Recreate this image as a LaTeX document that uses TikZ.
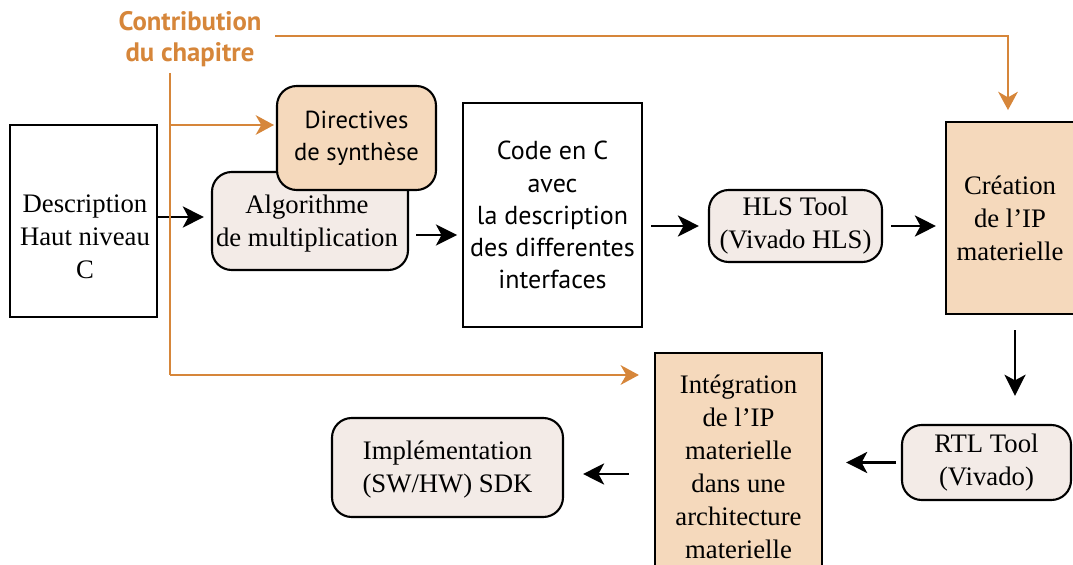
\documentclass[tikz,border=0pt]{standalone}
\usepackage{fontspec}
\setmainfont{Liberation Serif}
\newfontfamily\sansf{PT Sans}
\usetikzlibrary{arrows.meta,positioning}

\definecolor{orangeC}{RGB}{214,134,58}
\definecolor{peach}{RGB}{245,217,188}
\definecolor{lightC}{RGB}{243,235,231}

\tikzset{
  box/.style={draw=black, line width=1.5pt, inner sep=0pt, align=center,
    font=\fontsize{19}{23.5}\selectfont},
  rbox/.style={box, rounded corners=14pt},
  sbox/.style={font=\sansf\fontsize{17.5}{22.8}\selectfont},
  txt/.style={inner sep=0pt, align=center, font=\fontsize{19}{23.5}\selectfont},
  arr/.style={line width=1.9pt, -{Stealth[length=15pt,width=15pt,inset=4pt]}},
  orline/.style={draw=orangeC, line width=1.5pt},
  orarr/.style={orline, -{Stealth[length=13pt,width=14pt,inset=4pt]}}
}

\begin{document}
\begin{tikzpicture}[x=0.025cm, y=-0.025cm]
\useasboundingbox (0,0) rectangle (1073,565);
\clip (0,0) rectangle (1073,565);

% title
\node[txt, text=orangeC, font=\sansf\bfseries\fontsize{19}{22}\selectfont] (contrib) at (190,39) {Contribution\\du chapitre};

% boxes
\node[box, minimum width=147*0.025cm, minimum height=192*0.025cm] (desc) at (83.5,221) {};
\node[txt] (desctxt) at (85,237) {Description\\Haut niveau\\C};
\node[rbox, fill=lightC, minimum width=196*0.025cm, minimum height=98*0.025cm] (algo) at (310,221) {};
\node[txt] (algotxt) at (307,224) {Algorithme\\de multiplication};
\node[rbox, sbox, fill=peach, minimum width=159*0.025cm, minimum height=104*0.025cm] (dirv) at (356.5,138) {Directives\\de synth\`ese};
\node[box, sbox, font=\sansf\fontsize{18.5}{22.8}\selectfont, minimum width=179*0.025cm, minimum height=224*0.025cm] (code) at (552.5,215) {Code en C\\avec\\la description\\des differentes\\interfaces};
\node[rbox, fill=lightC, minimum width=173*0.025cm, minimum height=72*0.025cm] (hls) at (795.5,226) {HLS Tool\\(Vivado HLS)};
\node[box, fill=peach, minimum width=128*0.025cm, minimum height=192*0.025cm] (crea) at (1010,218) {Cr\'eation\\de l'IP\\materielle};
\node[rbox, fill=lightC, minimum width=169*0.025cm, minimum height=75*0.025cm] (rtl) at (986.5,462.5) {RTL Tool\\(Vivado)};
\node[box, fill=peach, minimum width=167*0.025cm, minimum height=227*0.025cm] (integ) at (738.5,466.5) {Int\'egration\\de l'IP\\materielle\\dans une\\architecture\\materielle};
\node[rbox, fill=lightC, minimum width=231*0.025cm, minimum height=99*0.025cm] (impl) at (447.5,467.5) {};
\node[txt] (impltxt) at (447.5,470) {Impl\'ementation\\(SW/HW) SDK};

% flow
\coordinate (d1) at (desc.east |- 0,217);
\draw[arr, shorten >=5pt] (d1) -- (d1 -| algo.west);
\coordinate (a1) at (algo.east |- 0,235);
\draw[arr, shorten <=5pt, shorten >=3.5pt] (a1) -- (a1 -| code.west);
\draw[arr, shorten <=5.7pt, shorten >=6.4pt] (code.east |- hls.west) -- (hls.west);
\draw[arr, shorten <=5.7pt, shorten >=6.4pt] (hls.east) -- (hls.east -| crea.west);
\coordinate (c1) at (1015,314);
\draw[arr, shorten <=11.4pt, shorten >=20pt] (c1) -- (c1 |- rtl.north);
\draw[arr, shorten <=3.5pt, shorten >=16.4pt] (rtl.west) -- (rtl.west -| integ.east);
\coordinate (i1) at (integ.west |- 0,474);
\draw[arr, shorten <=17.8pt, shorten >=13.5pt] (i1) -- (i1 -| impl.east);

% contribution
\coordinate (t1) at (275,36);
\draw[orarr, shorten >=8.5pt] (t1) -| (1008,122);
\coordinate (tap) at (170,73);
\coordinate (bend) at (170,375);
\draw[orline] (tap) -- (bend);
\draw[orarr, shorten >=10.7pt] (bend) -- (bend -| integ.west);
\coordinate (br) at (170,125);
\draw[orarr, shorten >=1.4pt] (br) -- (br -| dirv.west);
\end{tikzpicture}
\end{document}
